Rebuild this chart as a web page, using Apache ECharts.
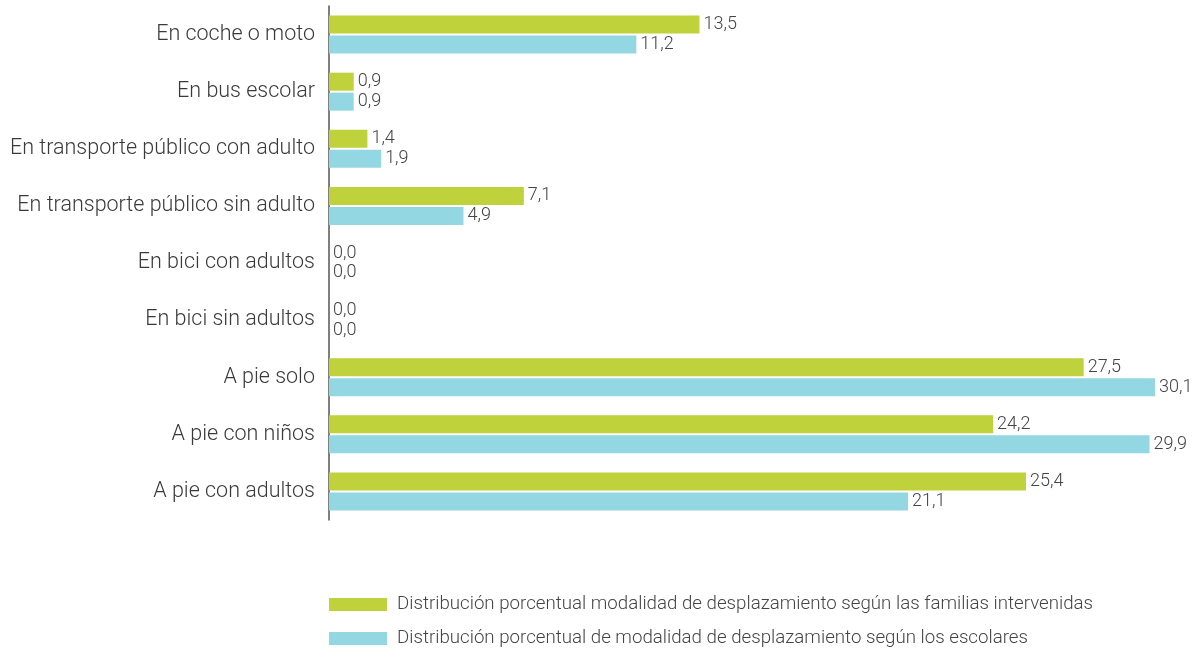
<!DOCTYPE html>
<html>
<head>
<meta charset="utf-8">
<script src="https://cdn.jsdelivr.net/npm/echarts@6/dist/echarts.min.js"></script>
<style>
  html, body { margin: 0; padding: 0; background: #fff; }
  #chart { width: 1197px; height: 648px; }
</style>
</head>
<body>
<div id="chart"></div>
<script>
// categorías (de arriba a abajo)
var categories = [
    "En coche o moto",
    "En bus escolar",
    "En transporte público con adulto",
    "En transporte público sin adulto",
    "En bici con adultos",
    "En bici sin adultos",
    "A pie solo",
    "A pie con niños",
    "A pie con adultos"
];
var familias = [13.5, 0.9, 1.4, 7.1, 0.0, 0.0, 27.5, 24.2, 25.4];
var escolares = [11.2, 0.9, 1.9, 4.9, 0.0, 0.0, 30.1, 29.9, 21.1];
var seriesNames = [
    "Distribución porcentual modalidad de desplazamiento según las familias intervenidas",
    "Distribución porcentual de modalidad de desplazamiento según los escolares"
];

var chart = echarts.init(document.getElementById("chart"));

function fmt(p) {
    return p.value.toFixed(1).replace(".", ",");
}

var labelStyle = {
    show: true,
    position: "right",
    distance: 4,
    color: "#444",
    fontSize: 18,
    fontFamily: "Roboto",
    fontWeight: 300,
    formatter: fmt
};

function legendFor(name, top) {
    return {
        orient: "horizontal",
        left: 329,
        top: top,
        padding: 0,
        itemWidth: 58,
        itemHeight: 13,
        icon: "rect",
        textStyle: { color: "#444", fontSize: 18.7, fontWeight: 300, padding: [0, 0, 0, 5] },
        data: [name]
    };
}

var option = {
    backgroundColor: "#ffffff",
    animation: false,
    textStyle: { fontFamily: "Roboto" },
    grid: {
        left: 329,
        right: 42,
        top: 6,
        bottom: 128
    },
    xAxis: {
        type: "value",
        min: 0,
        max: "dataMax",
        show: false
    },
    yAxis: {
        type: "category",
        data: categories,
        inverse: true,
        axisLine: { show: true, lineStyle: { color: "#555", width: 1.5 } },
        axisTick: { show: false },
        axisLabel: {
            color: "#3a3a3a",
            fontSize: 21.5,
            fontWeight: 300,
            margin: 14,
            padding: [4, 0, 0, 0]
        }
    },
    legend: [
        legendFor(seriesNames[0], 595),
        legendFor(seriesNames[1], 629)
    ],
    series: [
        {
            name: seriesNames[0],
            type: "bar",
            data: familias,
            barWidth: 18,
            barGap: "11%",
            itemStyle: { color: "#bfd13b" },
            label: labelStyle
        },
        {
            name: seriesNames[1],
            type: "bar",
            data: escolares,
            barWidth: 18,
            itemStyle: { color: "#93d7e3" },
            label: labelStyle
        }
    ]
};

chart.setOption(option);
</script>
</body>
</html>
